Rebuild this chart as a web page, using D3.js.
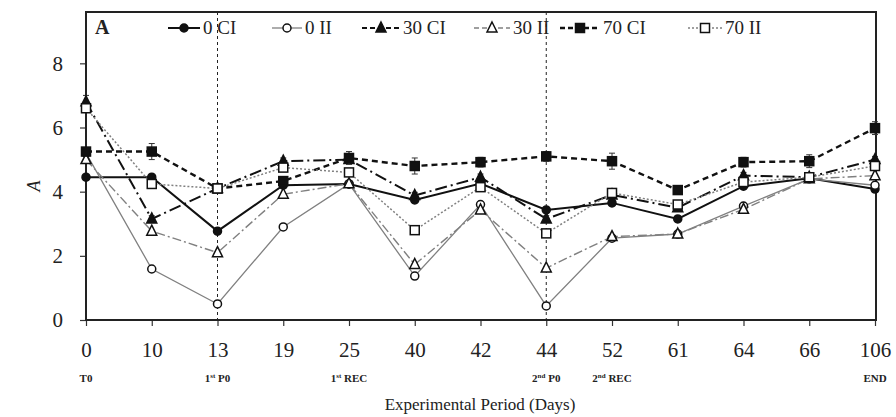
<!DOCTYPE html>
<html><head><meta charset="utf-8">
<script src="https://cdn.jsdelivr.net/npm/d3@7"></script>
<style>body{margin:0;background:#fff}svg{display:block}text{font-family:"Liberation Serif","Times New Roman",serif;fill:#222}</style>
</head><body><svg id="c" width="896" height="417"></svg>
<script>
const days = ["0","10","13","19","25","40","42","44","52","61","64","66","106"];
const subLabels = ["T0","","1|st| P0","","1|st| REC","","","2|nd| P0","2|nd| REC","","","","END"];
const seriesNames = ["0 CI","0 II","30 CI","30 II","70 CI","70 II"];
const ci0  = [4.45,4.45,2.77,4.2,4.24,3.74,4.25,3.43,3.65,3.15,4.17,4.42,4.08];
const ii0  = [5.2,1.59,0.5,2.9,4.24,1.37,3.6,0.44,2.55,2.68,3.55,4.4,4.2];
const ci30 = [6.8,3.15,4.1,4.95,5.0,3.88,4.45,3.15,3.9,3.5,4.5,4.45,5.0];
const ii30 = [5.0,2.77,2.1,3.92,4.25,1.73,3.43,1.62,2.6,2.68,3.45,4.4,4.5];
const ci70 = [5.25,5.25,4.1,4.33,5.05,4.8,4.92,5.1,4.95,4.05,4.92,4.95,5.98];
const ii70 = [6.6,4.24,4.1,4.75,4.6,2.8,4.14,2.7,3.96,3.6,4.3,4.45,4.8];
const err70ci = [0.1,0.25,0.1,0.1,0.2,0.25,0.15,0.15,0.25,0.1,0.15,0.2,0.2];
const err30ci = [0.2,0.1,0.1,0.1,0.1,0.1,0.1,0.1,0.1,0.1,0.1,0.1,0.1];
const yTicks = [0,2,4,6,8];
const markDays = ["13","44"];

const series = [
  {name:seriesNames[0], v:ci0,  err:null,    color:"#111", w:2,   dash:null,        marker:"circle", fill:"#111"},
  {name:seriesNames[1], v:ii0,  err:null,    color:"#808080", w:1.3, dash:null,     marker:"circle", fill:"#fff"},
  {name:seriesNames[2], v:ci30, err:err30ci, color:"#111", w:2,   dash:"12,4,2,4",  marker:"triangle", fill:"#111"},
  {name:seriesNames[3], v:ii30, err:null,    color:"#808080", w:1.4, dash:"9,3,2,3", marker:"triangle", fill:"#fff"},
  {name:seriesNames[4], v:ci70, err:err70ci, color:"#111", w:2.4, dash:"6,4",       marker:"square", fill:"#111"},
  {name:seriesNames[5], v:ii70, err:null,    color:"#808080", w:1.5, dash:"2,2",    marker:"square", fill:"#fff"}
];

const svg = d3.select("#c");
const L=86, R=875, T=12, B=320;
const x = d3.scalePoint().domain(days).range([L,R]).padding(0);
const y = d3.scaleLinear().domain([0,9.6]).range([B,T]);

// vertical dashed lines
svg.selectAll(".vl").data(markDays).join("line")
  .attr("x1",d=>x(d)).attr("x2",d=>x(d)).attr("y1",T).attr("y2",B)
  .attr("stroke","#222").attr("stroke-width",1).attr("stroke-dasharray","3,3");

// axes
const yAxis = svg.append("g").attr("transform",`translate(${L},0)`)
  .call(d3.axisLeft(y).tickValues(yTicks).tickSize(6).tickPadding(17).tickFormat(d3.format("d")));
yAxis.select(".domain").remove();
yAxis.selectAll("line").attr("stroke","#333").attr("stroke-width",1.2);
yAxis.selectAll("text").attr("font-size",21).style("font-family","Liberation Serif");

const xAxis = svg.append("g").attr("transform",`translate(0,${B})`)
  .call(d3.axisBottom(x).tickSize(6).tickPadding(16));
xAxis.select(".domain").remove();
xAxis.selectAll("line").attr("stroke","#333").attr("stroke-width",1.2);
xAxis.selectAll("text").attr("font-size",21).style("font-family","Liberation Serif");

// frame
svg.append("rect").attr("x",L).attr("y",T).attr("width",R-L+1).attr("height",B-T)
  .attr("fill","none").attr("stroke","#222").attr("stroke-width",2);

// sub labels
const sl = svg.selectAll(".sub").data(days.map((d,i)=>({d,s:subLabels[i]})).filter(o=>o.s)).join("text")
  .attr("x",o=>x(o.d)).attr("y",382).attr("text-anchor","middle")
  .attr("font-size",11).attr("font-weight","bold");
sl.each(function(o){
  const parts=o.s.split("|"); const t=d3.select(this);
  parts.forEach((p,k)=>{
    const ts=t.append("tspan").text(p);
    if(k===1) ts.attr("font-size",7).attr("dy",-4);
    if(k===2) ts.attr("dy",4);
  });
});

// axis titles
svg.append("text").attr("x",480).attr("y",410).attr("text-anchor","middle").attr("font-size",17).text("Experimental  Period (Days)");
svg.append("text").attr("transform","translate(40,186) rotate(-90)").attr("text-anchor","middle")
  .attr("font-size",18).attr("font-style","italic").text("A");
svg.append("text").attr("x",95).attr("y",34).attr("font-size",20).attr("font-weight","bold").text("A");

function drawMarker(g, type, cx, cy, s){
  const sz = s.marker==="circle"?4:(s.marker==="square"?4.5:5);
  if(type==="circle") g.append("circle").attr("cx",cx).attr("cy",cy).attr("r",sz)
      .attr("fill",s.fill).attr("stroke","#111").attr("stroke-width",1.5);
  else if(type==="square") g.append("rect").attr("x",cx-sz).attr("y",cy-sz).attr("width",2*sz).attr("height",2*sz)
      .attr("fill",s.fill).attr("stroke","#111").attr("stroke-width",1.5);
  else g.append("path").attr("d",`M${cx},${cy-sz-1}L${cx+sz},${cy+sz-1}L${cx-sz},${cy+sz-1}Z`)
      .attr("fill",s.fill).attr("stroke","#111").attr("stroke-width",1.5);
}

const line = d3.line().x((d,i)=>x(days[i])).y(d=>y(d));
series.forEach(s=>{
  svg.append("path").datum(s.v).attr("d",line).attr("fill","none")
    .attr("stroke",s.color).attr("stroke-width",s.w).attr("stroke-dasharray",s.dash);
});
series.forEach(s=>{
  const g = svg.append("g");
  if(s.err){
    s.v.forEach((v,i)=>{
      const cx=x(days[i]); const e=s.err[i];
      g.append("line").attr("x1",cx).attr("x2",cx).attr("y1",y(v+e)).attr("y2",y(v-e)).attr("stroke","#333").attr("stroke-width",1);
      [v+e,v-e].forEach(w=>g.append("line").attr("x1",cx-3).attr("x2",cx+3).attr("y1",y(w)).attr("y2",y(w)).attr("stroke","#333").attr("stroke-width",1));
    });
  }
  s.v.forEach((v,i)=>drawMarker(g,s.marker,x(days[i]),y(v),s));
});

// legend
const legX = [168,272,362,474,560,688];
const legW = [32,30,38,36,40,34];
series.forEach((s,i)=>{
  const g = svg.append("g");
  const x0=legX[i], x1=legX[i]+legW[i], ly=28;
  g.append("line").attr("x1",x0).attr("x2",x1).attr("y1",ly).attr("y2",ly)
    .attr("stroke",s.color).attr("stroke-width",s.w).attr("stroke-dasharray",s.dash?(s.dash==="2,2"?"2,2":"5,3"):null);
  drawMarker(g,s.marker,(x0+x1)/2,ly,s);
  g.append("text").attr("x",x1+3).attr("y",ly+6).attr("font-size",19).text(s.name);
});
</script></body></html>
